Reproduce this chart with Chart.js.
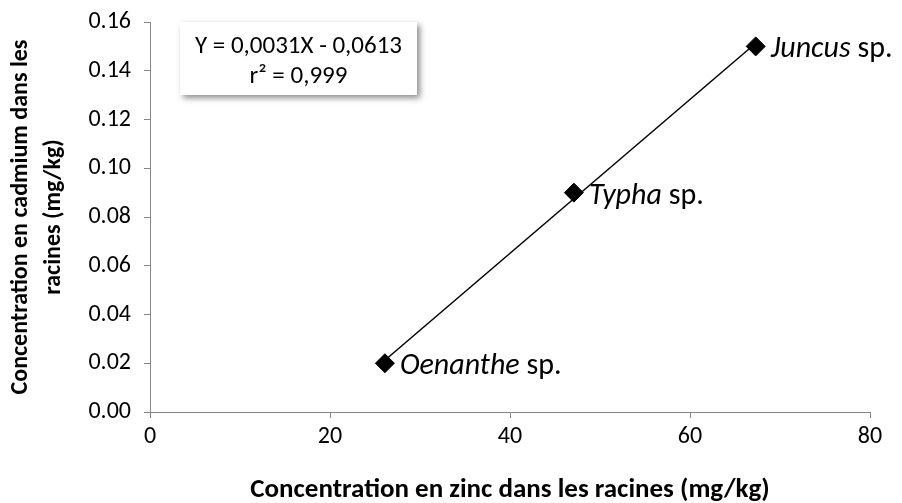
<!DOCTYPE html>
<html>
<head>
<meta charset="utf-8">
<script src="https://cdn.jsdelivr.net/npm/chart.js"></script>
<style>
  html, body { margin: 0; padding: 0; background: #fff; }
  #wrap { width: 902px; height: 503px; }
</style>
</head>
<body>
<div id="wrap"><canvas id="myChart" width="902" height="503"></canvas></div>
<script>
var species = ['Oenanthe', 'Typha', 'Juncus'];
var zinc = [26.1, 47.1, 67.3];
var cadmium = [0.02, 0.09, 0.15];
var xTicks = [0, 20, 40, 60, 80];
var yTicks = [0, 0.02, 0.04, 0.06, 0.08, 0.10, 0.12, 0.14, 0.16];
var equation = ['Y = 0,0031X - 0,0613', 'r\u00b2 = 0,999'];

var FONT = 'Carlito, Calibri, Lato, sans-serif';

// least squares line between the extreme x values
var n = zinc.length, mx = 0, my = 0;
for (var i = 0; i < n; i++) { mx += zinc[i] / n; my += cadmium[i] / n; }
var sxy = 0, sxx = 0;
for (var i = 0; i < n; i++) { sxy += (zinc[i] - mx) * (cadmium[i] - my); sxx += (zinc[i] - mx) * (zinc[i] - mx); }
var slope = sxy / sxx, icpt = my - slope * mx;
var xmin = Math.min.apply(null, zinc), xmax = Math.max.apply(null, zinc);
var trend = [{x: xmin, y: icpt + slope * xmin}, {x: xmax, y: icpt + slope * xmax}];

var points = zinc.map(function (x, i) { return {x: x, y: cadmium[i]}; });

var labelPlugin = {
    id: 'labels',
    afterDatasetsDraw: function (chart) {
        var ctx = chart.ctx;
        var meta = chart.getDatasetMeta(1);
        ctx.save();
        ctx.fillStyle = '#000';
        ctx.textBaseline = 'alphabetic';
        meta.data.forEach(function (pt, i) {
            var x = pt.x + 15, y = pt.y + 11;
            ctx.font = 'italic 30px ' + FONT;
            ctx.fillText(species[i], x, y);
            var w = ctx.measureText(species[i]).width;
            ctx.font = '30px ' + FONT;
            ctx.fillText(' sp.', x + w, y);
        });
        ctx.restore();
    }
};

var eqPlugin = {
    id: 'equation',
    afterDraw: function (chart) {
        var ctx = chart.ctx;
        var bx = 180, by = 22, bw = 237, bh = 73;
        ctx.save();
        ctx.shadowColor = 'rgba(0,0,0,0.45)';
        ctx.shadowBlur = 6;
        ctx.shadowOffsetX = 3;
        ctx.shadowOffsetY = 3;
        ctx.fillStyle = '#fff';
        ctx.fillRect(bx, by, bw, bh);
        ctx.restore();
        ctx.save();
        ctx.fillStyle = '#000';
        ctx.font = '25px ' + FONT;
        ctx.textAlign = 'center';
        ctx.textBaseline = 'middle';
        ctx.fillText(equation[0], bx + bw / 2, by + 25);
        ctx.fillText(equation[1], bx + bw / 2, by + 55);
        ctx.restore();
    }
};

var ctx = document.getElementById('myChart').getContext('2d');
var myChart = new Chart(ctx, {
    type: 'scatter',
    data: {
        datasets: [{
            data: trend,
            showLine: true,
            borderColor: '#000',
            borderWidth: 1.5,
            pointRadius: 0,
            pointHoverRadius: 0
        }, {
            data: points,
            pointStyle: 'rectRot',
            pointRadius: 9.5,
            pointHoverRadius: 9.5,
            backgroundColor: '#000',
            borderColor: '#000',
            borderWidth: 1
        }]
    },
    options: {
        responsive: false,
        animation: false,
        events: [],
        layout: { padding: { top: 22, right: 32, left: 0, bottom: 0 } },
        plugins: {
            legend: { display: false },
            tooltip: { enabled: false }
        },
        scales: {
            x: {
                type: 'linear',
                min: 0,
                max: 80,
                afterBuildTicks: function (axis) { axis.ticks = xTicks.map(function (v) { return {value: v}; }); },
                afterFit: function (axis) { axis.height = 91; },
                border: { color: '#868686', width: 1 },
                grid: { drawOnChartArea: false, drawTicks: true, tickLength: 6, color: '#868686' },
                ticks: { color: '#000', font: { family: FONT, size: 24 }, padding: 5 },
                title: {
                    display: true,
                    text: 'Concentration en zinc dans les racines (mg/kg)',
                    color: '#000',
                    font: { family: FONT, size: 27, weight: 'bold' },
                    padding: { top: 8, bottom: -3 }
                }
            },
            y: {
                type: 'linear',
                min: 0,
                max: 0.16,
                afterBuildTicks: function (axis) { axis.ticks = yTicks.map(function (v) { return {value: v}; }); },
                afterFit: function (axis) {
                    axis.width = 150;
                    axis.paddingTop = 0;
                    axis.paddingBottom = 0;
                },
                border: { color: '#868686', width: 1 },
                grid: { drawOnChartArea: false, drawTicks: true, tickLength: 6, color: '#868686' },
                ticks: {
                    color: '#000',
                    font: { family: FONT, size: 24 },
                    padding: 13,
                    callback: function (v) { return v.toFixed(2); }
                },
                title: {
                    display: true,
                    text: ['Concentration en cadmium dans les', 'racines (mg/kg)'],
                    color: '#000',
                    font: { family: FONT, size: 24, weight: 'bold', lineHeight: 1.4 },
                    padding: { top: 4, bottom: 4 }
                }
            }
        }
    },
    plugins: [labelPlugin, eqPlugin]
});
</script>
</body>
</html>
